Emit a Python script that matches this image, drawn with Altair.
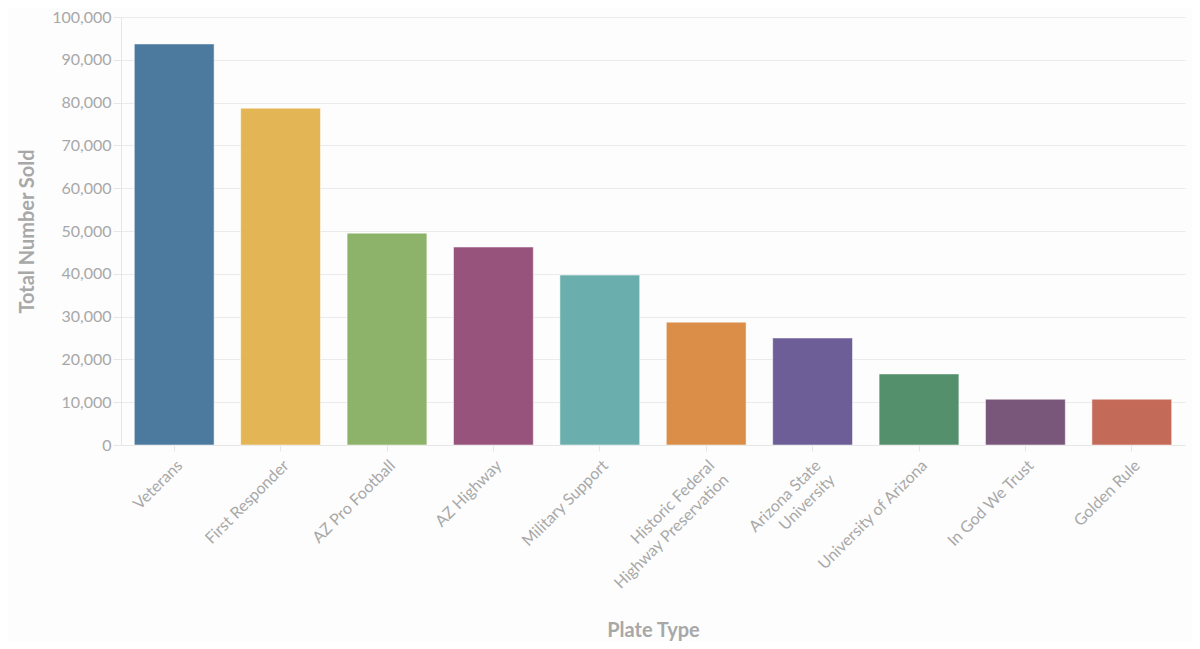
import altair as alt
import pandas as pd

plates = ["Veterans", "First Responder", "AZ Pro Football", "AZ Highway",
          "Military Support", "Historic Federal\nHighway Preservation",
          "Arizona State\nUniversity", "University of Arizona",
          "In God We Trust", "Golden Rule"]
sold = [93700, 78700, 49500, 46250, 39700, 28700, 25000, 16600, 10700, 10700]
colors = ["#46769b", "#e3b34f", "#8ab167", "#944e78", "#66adab",
          "#d98b42", "#695994", "#4f8d67", "#755277", "#c36653"]

df = pd.DataFrame({"plate": plates, "sold": sold})

FONT = "Lato"
GRAY = "#a8a8a8"

chart = alt.Chart(df).mark_bar(
    opacity=0.97, stroke="white", strokeWidth=1, strokeOpacity=0.5
).encode(
    x=alt.X("plate:N", sort=plates, title="Plate Type",
            scale=alt.Scale(paddingInner=0.25, paddingOuter=0.125),
            axis=alt.Axis(labelAngle=-45, labelExpr="split(datum.label, '\\n')",
                          labelFontSize=16, labelColor=GRAY, labelFont=FONT,
                          labelPadding=6, tickSize=6, tickColor="#e6e6e6",
                          domainColor="#e6e6e6", titleFont=FONT, titleFontSize=20,
                          titleColor=GRAY, titleFontWeight="bold", titlePadding=29,
                          labelLineHeight=20)),
    y=alt.Y("sold:Q", title="Total Number Sold",
            scale=alt.Scale(domain=[0, 100000]),
            axis=alt.Axis(values=list(range(0, 100001, 10000)), format=",.0f",
                          labelFontSize=16, labelColor=GRAY, labelFont=FONT,
                          tickSize=8, tickColor="#e6e6e6", domainColor="#e6e6e6",
                          gridColor="#ebebeb", titleFont=FONT, titleFontSize=20,
                          titleColor=GRAY, titleFontWeight="bold", titlePadding=14)),
    color=alt.Color("plate:N", sort=plates,
                    scale=alt.Scale(domain=plates, range=colors), legend=None),
).properties(
    width=1064, height=428,
    autosize=alt.AutoSizeParams(type="none"),
    padding={"left": 113, "top": 9, "right": 7, "bottom": 196},
    background="#fdfdfd",
).configure_view(stroke=None)

chart.save("out.html", embed_options={"renderer": "svg", "actions": False})
